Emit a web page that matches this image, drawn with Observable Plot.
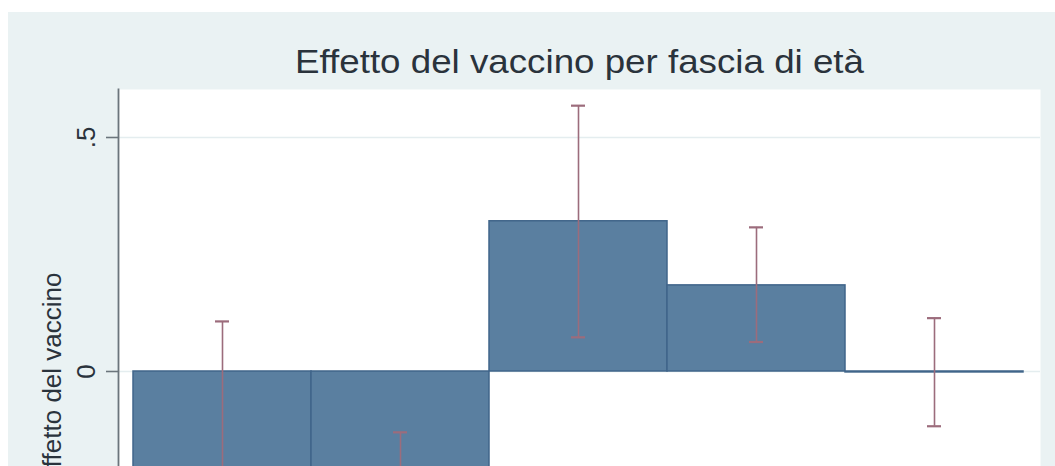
<!DOCTYPE html>
<html>
<head>
<meta charset="utf-8">
<script src="https://cdn.jsdelivr.net/npm/d3@7"></script>
<script src="https://cdn.jsdelivr.net/npm/@observablehq/plot@0.6"></script>
<style>
  html, body { margin: 0; padding: 0; background: #ffffff; }
  #chart { position: relative; width: 1055px; height: 466px; overflow: hidden; background: #ffffff; }
  #chart svg { position: absolute; left: 8px; top: 12px; background: #eaf2f3; }
</style>
</head>
<body>
<div id="chart"></div>
<script>
// Age bands (fasce di età) and estimated vaccine effect with confidence bounds
const fasce = [1, 2, 3, 4, 5];
const effetto = [-0.25, -0.35, 0.321, 0.184, -0.002];
const ciAlto = [0.107, -0.130, 0.568, 0.308, 0.114];
const ciBasso = [-0.61, -0.57, 0.073, 0.063, -0.117];
const yTicks = [0, 0.5];
const titolo = "Effetto del vaccino per fascia di età";
const etichettaY = "Effetto del vaccino";

const rows = fasce.map((f, i) => ({fascia: f, effetto: effetto[i], alto: ciAlto[i], basso: ciBasso[i]}));

// Stata-style number format: ".5" rather than "0.5"
const fmt = d => d === 0 ? "0" : d3.format(".1f")(d).replace(/^(-?)0\./, "$1.");

const barFill = "#5a7fa0";
const barStroke = "#40658a";
const ciColor = "#9c6c7c";
const axisColor = "#6b757c";
const textColor = "#2a333c";

const chart = Plot.plot({
  width: 1047,
  height: 730,
  marginLeft: 110,
  marginRight: 15,
  marginTop: 77,
  marginBottom: 75,
  style: {fontFamily: "Liberation Sans, Arial, sans-serif", background: "#eaf2f3", color: textColor},
  x: {type: "band", domain: fasce, padding: 0, insetLeft: 13, insetRight: 16, axis: null},
  y: {domain: [-0.63248, 0.60256], ticks: yTicks, tickFormat: fmt},
  marks: [
    Plot.frame({fill: "white", stroke: null}),
    Plot.gridY(yTicks, {stroke: "#e4edef", strokeOpacity: 1, strokeWidth: 1.5}),
    // y axis line along the left edge of the plot region
    Plot.frame({anchor: "left", stroke: axisColor, strokeWidth: 1.8}),
    Plot.axisY(yTicks, {
      tickSize: 12,
      tickPadding: 12,
      tickRotate: -90,
      tickFormat: fmt,
      fontSize: 26,
      stroke: axisColor,
      strokeWidth: 1.6,
      fill: textColor,
      label: etichettaY,
      labelAnchor: "center",
      labelArrow: "none",
      labelOffset: 76
    }),
    Plot.barY(rows, {x: "fascia", y: "effetto", fill: barFill, stroke: barStroke, strokeWidth: 1.5}),
    Plot.ruleX(rows, {x: "fascia", y1: "basso", y2: "alto", stroke: ciColor, strokeWidth: 1.6}),
    Plot.tickY(rows, {x: "fascia", y: "alto", stroke: ciColor, strokeWidth: 2.2, insetLeft: 82, insetRight: 82}),
    Plot.tickY(rows, {x: "fascia", y: "basso", stroke: ciColor, strokeWidth: 2.2, insetLeft: 82, insetRight: 82}),
    Plot.text([titolo], {frameAnchor: "top", lineAnchor: "bottom", dy: -17, fontSize: 34, fill: textColor, className: "titolo"})
  ]
});

// the title is set slightly wide, as in the Stata export
d3.select(chart).selectAll("g.titolo text")
  .attr("textLength", 569)
  .attr("lengthAdjust", "spacingAndGlyphs");

document.getElementById("chart").appendChild(chart);
</script>
</body>
</html>
